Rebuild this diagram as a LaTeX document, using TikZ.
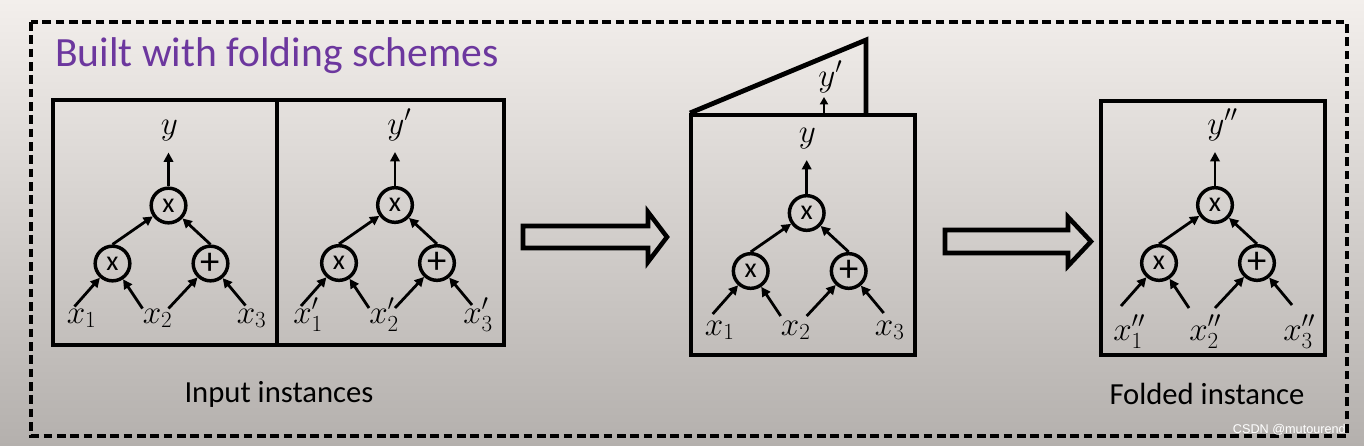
\documentclass[tikz,border=0pt]{standalone}
\usepackage{fontspec}
\setmainfont{Carlito}
\newfontfamily\wmfont{Liberation Sans}
\usetikzlibrary{arrows.meta}
\definecolor{bgtop}{RGB}{243,239,236}
\definecolor{bgbot}{RGB}{180,176,173}
\definecolor{titlepurple}{RGB}{108,55,158}
\tikzset{
  op/.style={circle,draw,line width=2.6pt,minimum size=26pt,inner sep=0pt,font=\fontsize{21}{21}\selectfont},
  plusop/.style={op,font=\fontsize{29}{29}\selectfont},
  lab/.style={inner sep=0pt,font=\fontsize{24}{24}\selectfont},
  edge/.style={line width=2.1pt,-{Triangle[length=7pt,width=7pt]}},
  box/.style={line width=3.6pt},
  bigarrow/.style={line width=3.4pt,line join=miter},
  caption/.style={inner sep=0pt,font=\fontsize{23}{23}\selectfont},
}
\newcommand\mktree[8]{%
\begin{scope}[shift={(#2,#3)}]
 \node[op] (#1t) at (0,0) {x};
 \node[op] (#1l) at (-56,58) {x};
 \node[plusop] (#1r) at (42,58) {+};
 \node[lab,anchor=base west] (#1y) at (-8,-71) {$#4$};
 \coordinate (#1ya) at (0,-53);
 \draw[edge] (#1t) -- (#1ya);
 \draw[edge] (#1l.north) -- (#1t);
 \draw[edge] (#1r.north) -- (#1t);
 \coordinate (#1a1) at (-94,101);
 \coordinate (#1a2) at (-26,103);
 \coordinate (#1a3) at (0,103);
 \coordinate (#1a4) at (77,100);
 \draw[edge] (#1a1) -- (#1l);
 \draw[edge] (#1a2) -- (#1l);
 \draw[edge] (#1a3) -- (#1r);
 \draw[edge] (#1a4) -- (#1r);
 \node[lab,anchor=base west] (#1x1) at (-102,#8) {$#5$};
 \node[lab,anchor=base west] (#1x2) at (-26,#8) {$#6$};
 \node[lab,anchor=base west] (#1x3) at (68,#8) {$#7$};
\end{scope}}
\begin{document}
\begin{tikzpicture}[x=0.75pt,y=-0.75pt]
\useasboundingbox (0,0) rectangle (1364,446);
\shade[top color=bgtop,bottom color=bgbot] (0,0) rectangle (1364,446);
% dashed frame
\draw[line width=2.3pt,dash pattern=on 6.5pt off 3.5pt] (31,22) rectangle (1347,436);
\node[anchor=base west,inner sep=0pt,text=titlepurple,font=\fontsize{31.2}{31.2}\selectfont] (title) at (55,66.5) {Built with folding schemes};
% input instances box
\draw[box] (53,100) rectangle (504,345);
\draw[box] (277,100) -- (277,345);
\mktree{a}{168.5}{205.5}{y}{x_1}{x_2}{x_3}{117.5}
\mktree{b}{395}{205}{y'}{x'_1}{x'_2}{x'_3}{118}
\node[caption] (cap1) at (279,394) {Input instances};
% big arrow 1
\draw[bigarrow] (523,226) -- (648,226) -- (648,212) -- (667,237) -- (648,262) -- (648,248) -- (523,248) -- cycle;
% middle folded box
\draw[box,line join=miter] (690,113) -- (866,40) -- (866,115);
\draw[box] (691,115) rectangle (915,355);
\coordinate (fa) at (824,113);
\coordinate (fb) at (824,97);
\draw[line width=1.8pt,-{Triangle[length=5.5pt,width=6pt]}] (fa) -- (fb);
\node[lab,anchor=base west] (fy) at (818,86) {$y'$};
\mktree{c}{806.7}{213}{y}{x_1}{x_2}{x_3}{122}
% big arrow 2
\draw[bigarrow] (945,230) -- (1068,230) -- (1068,217) -- (1091,241.5) -- (1068,266) -- (1068,253) -- (945,253) -- cycle;
% folded instance
\draw[box] (1101,101) rectangle (1325,355);
\mktree{d}{1215}{205}{y''}{x''_1}{x''_2}{x''_3}{135}
\node[caption] (cap2) at (1207,394) {Folded instance};
\node[anchor=base east,inner sep=0pt,text=white,font=\wmfont\fontsize{9.5}{9.5}\selectfont] (wm) at (1346,433) {CSDN @mutourend};
\end{tikzpicture}
\end{document}
